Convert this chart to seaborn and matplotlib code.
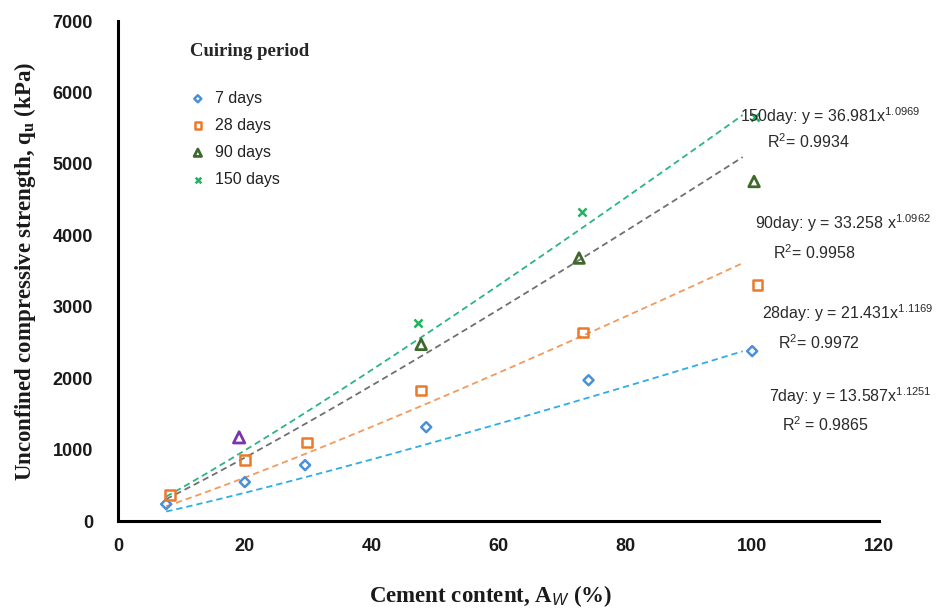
import numpy as np
import matplotlib
matplotlib.use("Agg")
import matplotlib.pyplot as plt
import seaborn as sns

# Cement content (%) and unconfined compressive strength (kPa) per curing period
aw_7 = [7.6, 20.0, 29.5, 48.6, 74.2, 100.0]
qu_7 = [236, 545, 782, 1314, 1971, 2378]

aw_28 = [8.2, 20.0, 29.8, 47.8, 73.3, 100.8]
qu_28 = [364, 855, 1100, 1829, 2635, 3305]

aw_90 = [19.1, 47.8, 72.7, 100.3]
qu_90 = [1171, 2473, 3681, 4753]

aw_150 = [47.3, 73.1, 100.5]
qu_150 = [2770, 4319, 5653]

# Power-law trend lines y = a * x^b
fit_a = {"7": 13.587, "28": 21.431, "90": 33.258, "150": 36.981}
fit_b = {"7": 1.1251, "28": 1.1169, "90": 1.0962, "150": 1.0969}
fit_r2 = {"7": 0.9865, "28": 0.9972, "90": 0.9958, "150": 0.9934}

x_ticks = [0, 20, 40, 60, 80, 100, 120]
y_ticks = [0, 1000, 2000, 3000, 4000, 5000, 6000, 7000]

sns.set_theme(style="white")
plt.rcParams["font.family"] = ["Liberation Sans", "DejaVu Sans"]
plt.rcParams["mathtext.fontset"] = "custom"
plt.rcParams["mathtext.rm"] = "Liberation Serif"
plt.rcParams["mathtext.bf"] = "Liberation Serif:bold"
plt.rcParams["mathtext.it"] = "Liberation Sans:italic"
plt.rcParams["mathtext.sf"] = "Liberation Sans"

fig = plt.figure(figsize=(9.47, 6.10), dpi=100)
ax = fig.add_axes([118 / 947, 1 - 521 / 610, (879 - 118) / 947, (521 - 21) / 610])

line_colors = {"7": "#2eaee3", "28": "#f29a5e", "90": "#707070", "150": "#2bb585"}
x_fit = np.linspace(7.6, 98.5, 100)
for key in ["7", "28", "90", "150"]:
    y_fit = fit_a[key] * x_fit ** fit_b[key]
    sns.lineplot(x=x_fit, y=y_fit, ax=ax, color=line_colors[key], lw=1.3,
                 linestyle=(0, (3.5, 2.2)), legend=False)

sns.scatterplot(x=aw_7, y=qu_7, ax=ax, marker="D", s=26, color="#4a90d9",
                facecolors="none", edgecolor="#4a90d9", linewidth=1.8,
                label="7 days", zorder=3)
sns.scatterplot(x=aw_28, y=qu_28, ax=ax, marker="s", s=46, color="#ea7a2b",
                facecolors="none", edgecolor="#ea7a2b", linewidth=1.8,
                label="28 days", zorder=3)
sns.scatterplot(x=aw_90[1:], y=qu_90[1:], ax=ax, marker="^", s=58, color="#3d6a2c",
                facecolors="none", edgecolor="#3d6a2c", linewidth=2.0,
                label="90 days", zorder=3)
sns.scatterplot(x=aw_90[:1], y=qu_90[:1], ax=ax, marker="^", s=66, color="#7a35a8",
                facecolors="none", edgecolor="#7a35a8", linewidth=2.0, zorder=3)
sns.scatterplot(x=aw_150, y=qu_150, ax=ax, marker="x", s=34, color="#1fb45e",
                linewidth=1.8, label="150 days", zorder=3)

ax.set_xlim(0, 120)
ax.set_ylim(0, 7000)
ax.set_xticks(x_ticks)
ax.set_yticks(y_ticks)
sns.despine(ax=ax)
for side in ["left", "bottom"]:
    ax.spines[side].set_linewidth(2.2)
    ax.spines[side].set_color("black")

ax.tick_params(axis="x", direction="in", length=10, width=2.2, pad=12,
               labelsize=13, colors="black")
ax.tick_params(axis="y", direction="in", length=8, width=2.2, pad=18,
               labelsize=13, colors="black")
for lab in ax.get_xticklabels() + ax.get_yticklabels():
    lab.set_fontweight("bold")
    lab.set_color("#1a1a1a")

ax.set_ylabel(r"Unconfined compressive strength, q$_{\mathbf{u}}$ (kPa)",
              fontfamily="Liberation Serif", fontweight="bold", fontsize=16.5,
              color="#1a1a1a")
ax.yaxis.set_label_coords(-0.105, 0.5)
ax.set_xlabel(r"Cement content, A$_{W}$ (%)", fontfamily="Liberation Serif",
              fontweight="bold", fontsize=16.5, color="#1a1a1a")
ax.xaxis.set_label_coords(0.49, -0.125)

leg = ax.legend(title="Cuiring period", loc="upper left",
                bbox_to_anchor=(0.086, 0.968), frameon=False, fontsize=11.5,
                handlelength=1.0, handletextpad=0.6, labelspacing=0.75,
                markerscale=0.7, borderaxespad=0)
leg.get_title().set_fontfamily("Liberation Serif")
leg.get_title().set_fontweight("bold")
leg.get_title().set_fontsize(13.5)
leg._legend_box.align = "left"
leg._legend_box.sep = 22
for t in leg.get_texts():
    t.set_color("#222222")

eq_color = "#2a2a2a"


def put(xp, yp, s):
    fig.text(xp / 947, 1 - yp / 610, s, fontsize=11.5, color=eq_color,
             va="center", ha="left")


put(740, 116, r"150day: y = %.3fx$^{\mathsf{%.4f}}$" % (fit_a["150"], fit_b["150"]))
put(767, 142, r"R$^{\mathsf{2}}$= %.4f" % fit_r2["150"])
put(755, 223, r"90day: y = %.3f x$^{\mathsf{%.4f}}$" % (fit_a["90"], fit_b["90"]))
put(773, 253, r"R$^{\mathsf{2}}$= %.4f" % fit_r2["90"])
put(762, 313, r"28day: y = %.3fx$^{\mathsf{%.4f}}$" % (fit_a["28"], fit_b["28"]))
put(778, 343, r"R$^{\mathsf{2}}$= %.4f" % fit_r2["28"])
put(769, 396, r"7day: y = %.3fx$^{\mathsf{%.4f}}$" % (fit_a["7"], fit_b["7"]))
put(782, 425, r"R$^{\mathsf{2}}$ = %.4f" % fit_r2["7"])

fig.savefig("out.png", dpi=100)
